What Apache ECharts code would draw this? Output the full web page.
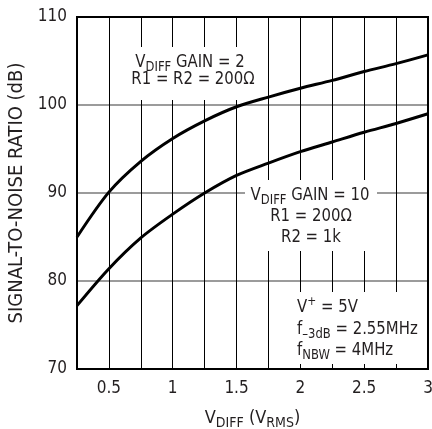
<!DOCTYPE html>
<html><head><meta charset="utf-8">
<script src="https://cdn.jsdelivr.net/npm/echarts@6/dist/echarts.min.js"></script>
<style>html,body{margin:0;padding:0;background:#fff}#c{width:432px;height:429px}</style>
</head><body><div id="c"></div>
<script>
// ---- data ----
const xValues = [0.25, 0.5, 0.75, 1, 1.25, 1.5, 1.75, 2, 2.25, 2.5, 2.75, 3];
const gain2SNR = [85.0, 90.1, 93.6, 96.2, 98.2, 99.8, 100.9, 101.9, 102.8, 103.8, 104.7, 105.7];
const gain10SNR = [77.2, 81.4, 84.9, 87.6, 90.0, 92.0, 93.4, 94.7, 95.8, 96.9, 97.9, 99.0];
const xTickLabels = ['0.5', '1', '1.5', '2', '2.5', '3'];
const yTickLabels = ['70', '80', '90', '100', '110'];

const FONT = "'DejaVu Sans Condensed','Liberation Sans',sans-serif";
const INK = '#231f20';

const chart = echarts.init(document.getElementById('c'), null, {renderer: 'canvas'});

const rich = {
  m: {fontSize: 18, lineHeight: 24, fontFamily: FONT, color: INK},
  s: {fontSize: 14, lineHeight: 14, verticalAlign: 'bottom', fontFamily: FONT, color: INK},
  p: {fontSize: 13, lineHeight: 13, verticalAlign: 'top', fontFamily: FONT, color: INK}
};

function label(x, y, text, align) {
  return {
    type: 'text', x: x, y: y, z: 20, scaleX: 0.92,
    style: {text: text, rich: rich, align: align || 'center', verticalAlign: 'middle',
      fontFamily: FONT, fontSize: 18, fill: INK}
  };
}
function box(x, y, w, h) {
  return {type: 'rect', z: 15, shape: {x: x, y: y, width: w, height: h},
    style: {fill: '#fff', stroke: null}};
}

const option = {
  animation: false,
  backgroundColor: '#fff',
  grid: {left: 77, right: 4, top: 17, bottom: 60, containLabel: false, outerBoundsMode: 'none'},
  xAxis: {
    type: 'value', min: 0.25, max: 3, interval: 0.25,
    name: '{m|V}{s|DIFF}{m| (V}{s|RMS}{m|)}',
    nameLocation: 'middle', nameGap: 37,
    nameTextStyle: {rich: rich, fontFamily: FONT, fontSize: 18, color: INK},
    axisLine: {show: false},
    axisTick: {show: false},
    axisLabel: {
      margin: 11, fontFamily: FONT, fontSize: 17, color: INK,
      formatter: function (v) {
        const s = String(Math.round(v * 100) / 100);
        return xTickLabels.indexOf(s) >= 0 ? s : '';
      }
    },
    splitLine: {show: true, lineStyle: {color: '#000', width: 1}}
  },
  yAxis: {
    type: 'value', min: 70, max: 110, interval: 10,
    name: 'SIGNAL-TO-NOISE RATIO (dB)',
    nameLocation: 'middle', nameGap: 48, nameRotate: 90,
    nameTextStyle: {fontFamily: FONT, fontSize: 20, color: INK},
    axisLine: {show: false},
    axisTick: {show: false},
    axisLabel: {
      margin: 10, fontFamily: FONT, fontSize: 17, color: INK,
      formatter: function (v) {
        const s = String(v);
        return yTickLabels.indexOf(s) >= 0 ? s : '';
      }
    },
    splitLine: {show: true, lineStyle: {color: '#7a7a7a', width: 1.6}}
  },
  series: [
    {type: 'line', name: 'gain2', data: xValues.map((x, i) => [x, gain2SNR[i]]),
      smooth: 0.3, symbol: 'none', lineStyle: {color: '#000', width: 3}, z: 30},
    {type: 'line', name: 'gain10', data: xValues.map((x, i) => [x, gain10SNR[i]]),
      smooth: 0.3, symbol: 'none', lineStyle: {color: '#000', width: 3}, z: 30}
  ],
  graphic: [
    box(127, 47, 129, 53),
    label(190, 62, '{m|V}{s|DIFF}{m| GAIN = 2}'),
    label(193, 79, '{m|R1 = R2 = 200Ω}'),
    box(245, 180, 132, 71),
    label(310, 195, '{m|V}{s|DIFF}{m| GAIN = 10}'),
    label(311, 216, '{m|R1 = 200Ω}'),
    label(311, 237, '{m|R2 = 1k}'),
    box(285, 292, 140, 72),
    label(297, 307, '{m|V}{p|+}{m| = 5V}', 'left'),
    label(297, 329, '{m|f}{s|–3dB}{m| = 2.55MHz}', 'left'),
    label(297, 350, '{m|f}{s|NBW}{m| = 4MHz}', 'left'),
    {type: 'rect', z: 40, shape: {x: 77, y: 17, width: 351, height: 352},
      style: {fill: null, stroke: '#000', lineWidth: 2}}
  ]
};
chart.setOption(option);
</script>
</body></html>
